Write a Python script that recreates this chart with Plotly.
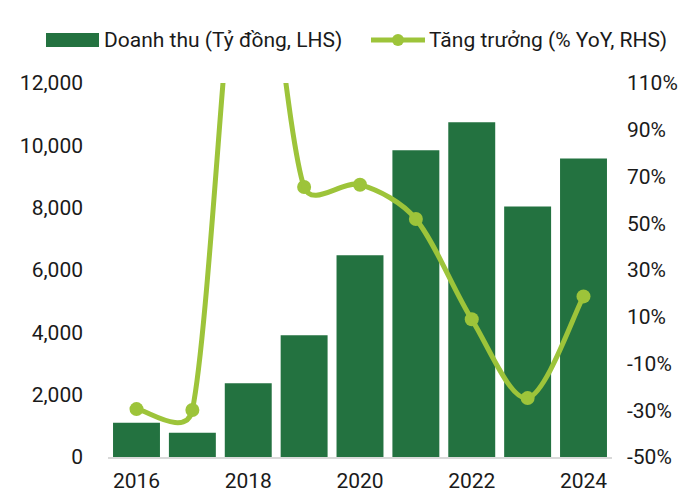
import math
import plotly.graph_objects as go

years = [2016, 2017, 2018, 2019, 2020, 2021, 2022, 2023, 2024]
revenue = [1100, 780, 2370, 3910, 6470, 9840, 10740, 8040, 9580]
growth = [-29.5, -29.9, 203.8, 65.5, 66.5, 51.8, 8.9, -24.8, 18.7]
left_ticks = [0, 2000, 4000, 6000, 8000, 10000, 12000]
right_ticks = [-50, -30, -10, 10, 30, 50, 70, 90, 110]
right_labels = [f"{v}%" for v in right_ticks]
x_ticks = [2016, 2018, 2020, 2022, 2024]
bar_name = "Doanh thu (Tỷ đồng, LHS)"
line_name = "Tăng trưởng (% YoY, RHS)"

BAR = "#237240"
LINE = "#9dc43a"
FONT = "Roboto, Arial, sans-serif"
OFF = 8  # page body margin
W, H = 690 - OFF, 497 - OFF
L, R, T, B = 108 - OFF, 78, 83 - OFF, 40
PW, PH = W - L - R, H - T - B
XR = [2015.49, 2024.51]
Y2R = [-50, 110]

def px(x):
    return (x - OFF - L) / PW

def py(y):
    return (H - B - (y - OFF)) / PH

fig = go.Figure()
fig.add_trace(go.Bar(
    x=years, y=revenue, name=bar_name,
    marker=dict(color=BAR, line=dict(width=0)), yaxis="y",
))
fig.add_trace(go.Scatter(
    x=years, y=growth, name=line_name, yaxis="y2",
    mode="markers", marker=dict(size=14, color=LINE), cliponaxis=True,
))

# smoothed growth line (spreadsheet-like Bezier smoothing), computed in pixel
# space from the data and drawn in the x / y2 data coordinates
sx = PW / (XR[1] - XR[0])
sy = PH / (Y2R[1] - Y2R[0])
P = [(x * sx, y * sy) for x, y in zip(years, growth)]
n = len(P)

def dist(a, b):
    return math.hypot(a[0] - b[0], a[1] - b[1])

fwd, bwd = [], []
for i in range(n):
    a = P[max(i - 1, 0)]
    c = P[min(i + 1, n - 1)]
    tx, ty = (c[0] - a[0]) / 6, (c[1] - a[1]) / 6
    dp = dist(P[i], a) if i > 0 else 0
    dn = dist(P[i], c) if i < n - 1 else 0
    kf = min(1.0, math.sqrt(dn / dp)) if dp > 0 else 1.0
    kb = min(1.0, math.sqrt(dp / dn)) if dn > 0 else 1.0
    fwd.append((P[i][0] + tx * kf, P[i][1] + ty * kf))
    bwd.append((P[i][0] - tx * kb, P[i][1] - ty * kb))

def d(pt):
    return f"{pt[0] / sx},{pt[1] / sy}"

path = f"M {d(P[0])}"
for i in range(n - 1):
    path += f" C {d(fwd[i])} {d(bwd[i + 1])} {d(P[i + 1])}"

shapes = [
    dict(type="path", xref="x", yref="y2", path=path, layer="above",
         line=dict(color=LINE, width=5)),
    dict(type="rect", xref="paper", yref="paper", x0=px(46), x1=px(99), y0=py(47), y1=py(33),
         fillcolor=BAR, line=dict(width=0)),
    dict(type="line", xref="paper", yref="paper", x0=px(371), x1=px(425), y0=py(40), y1=py(40),
         line=dict(color=LINE, width=5)),
    dict(type="circle", xref="paper", yref="paper", x0=px(392), x1=px(404), y0=py(46), y1=py(34),
         fillcolor=LINE, line=dict(width=0)),
]
annotations = [
    dict(text=bar_name, xref="paper", yref="paper", x=px(102), y=py(40), xanchor="left",
         yanchor="middle", showarrow=False, font=dict(size=21, family=FONT, color="#1a1a1a")),
    dict(text=line_name, xref="paper", yref="paper", x=px(427), y=py(40), xanchor="left",
         yanchor="middle", showarrow=False, font=dict(size=21, family=FONT, color="#1a1a1a")),
]

fig.update_layout(
    width=W, height=H,
    margin=dict(l=L, r=R, t=T, b=B, autoexpand=False),
    plot_bgcolor="white", paper_bgcolor="white",
    font=dict(family=FONT, size=21, color="#1a1a1a"),
    bargap=0.16,
    showlegend=False,
    shapes=shapes,
    annotations=annotations,
    xaxis=dict(tickmode="array", tickvals=x_ticks, ticktext=[str(v) for v in x_ticks],
               showgrid=False, showline=True, linecolor="#d9d9d9", linewidth=2,
               ticks="", range=XR, ticklabelstandoff=4),
    yaxis=dict(range=[0, 12000], tickvals=left_ticks, tickformat=",",
               showgrid=False, zeroline=False, ticks="", ticklabelstandoff=24),
    yaxis2=dict(range=Y2R, tickvals=right_ticks, ticktext=right_labels,
                overlaying="y", side="right", showgrid=False, zeroline=False,
                ticks="", ticklabelstandoff=14),
)
fig.write_html("out.html")
